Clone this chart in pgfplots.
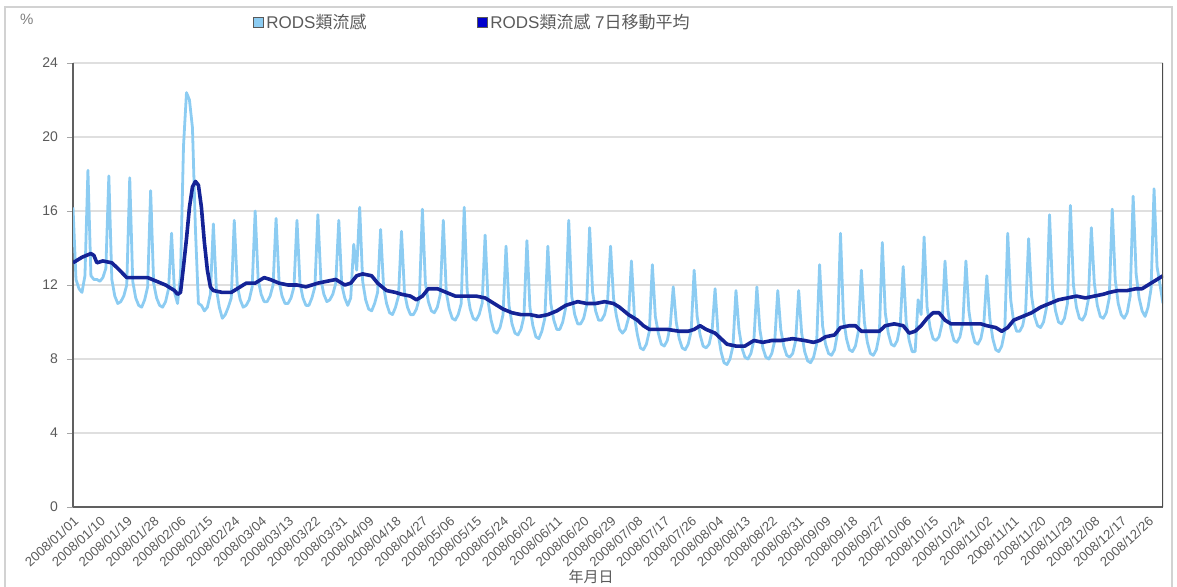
\documentclass[border=0pt]{standalone}
\usepackage{fontspec}
\setmainfont{Liberation Sans}
\newfontfamily\cjk{Noto Sans CJK TC}
\usepackage{pgfplots}
\usepackage{pgfplotstable}
\pgfplotsset{compat=1.18}

\definecolor{rodslight}{RGB}{140,204,242}
\definecolor{rodsdark}{RGB}{20,35,150}
\definecolor{txtgray}{RGB}{90,90,90}

% daily RODS ILI share (%), 2008/01/01 .. 2008/12/31, one week per line
\pgfplotstableread[row sep=\\]{
val\\
16.2\\ 12.3\\ 11.8\\ 11.6\\ 12.5\\ 18.2\\
12.5\\ 12.3\\ 12.3\\ 12.2\\ 12.4\\ 12.9\\ 17.9\\
12.3\\ 11.4\\ 11.0\\ 11.1\\ 11.4\\ 12.0\\ 17.8\\
12.2\\ 11.3\\ 10.9\\ 10.8\\ 11.2\\ 11.9\\ 17.1\\
12.1\\ 11.3\\ 10.9\\ 10.8\\ 11.1\\ 11.8\\ 14.8\\
11.6\\ 11.0\\ 12.5\\ 19.5\\ 22.4\\ 22.0\\ 20.5\\
15.0\\ 11.0\\ 10.9\\ 10.6\\ 10.8\\ 11.5\\ 15.3\\
11.8\\ 10.8\\ 10.2\\ 10.4\\ 10.8\\ 11.3\\ 15.5\\
12.0\\ 11.2\\ 10.8\\ 10.9\\ 11.2\\ 11.9\\ 16.0\\
12.3\\ 11.5\\ 11.1\\ 11.1\\ 11.4\\ 12.0\\ 15.6\\
12.2\\ 11.4\\ 11.0\\ 11.0\\ 11.3\\ 11.9\\ 15.5\\
12.1\\ 11.3\\ 10.9\\ 10.9\\ 11.3\\ 11.9\\ 15.8\\
12.3\\ 11.5\\ 11.1\\ 11.2\\ 11.5\\ 12.1\\ 15.5\\
12.0\\ 11.3\\ 10.9\\ 11.3\\ 14.2\\ 12.8\\ 16.2\\
12.2\\ 11.2\\ 10.7\\ 10.6\\ 11.0\\ 11.6\\ 15.0\\
11.9\\ 11.0\\ 10.5\\ 10.4\\ 10.8\\ 11.4\\ 14.9\\
11.6\\ 10.8\\ 10.4\\ 10.4\\ 10.7\\ 11.3\\ 16.1\\
12.1\\ 11.1\\ 10.6\\ 10.5\\ 10.8\\ 11.5\\ 15.5\\
11.6\\ 10.7\\ 10.2\\ 10.1\\ 10.4\\ 11.0\\ 16.2\\
11.7\\ 10.7\\ 10.2\\ 10.1\\ 10.4\\ 11.0\\ 14.7\\
11.1\\ 10.1\\ 9.5\\ 9.4\\ 9.7\\ 10.4\\ 14.1\\
10.9\\ 9.9\\ 9.4\\ 9.3\\ 9.6\\ 10.3\\ 14.4\\
10.8\\ 9.8\\ 9.2\\ 9.1\\ 9.5\\ 10.2\\ 14.1\\
11.0\\ 10.1\\ 9.6\\ 9.6\\ 10.0\\ 10.8\\ 15.5\\
11.4\\ 10.4\\ 9.9\\ 9.9\\ 10.2\\ 10.9\\ 15.1\\
11.6\\ 10.6\\ 10.1\\ 10.1\\ 10.4\\ 11.1\\ 14.1\\
11.3\\ 10.3\\ 9.6\\ 9.4\\ 9.6\\ 10.2\\ 13.3\\
10.3\\ 9.3\\ 8.6\\ 8.5\\ 8.8\\ 9.5\\ 13.1\\
10.3\\ 9.4\\ 8.8\\ 8.7\\ 9.0\\ 9.8\\ 11.9\\
10.0\\ 9.1\\ 8.6\\ 8.5\\ 8.8\\ 9.5\\ 12.8\\
10.3\\ 9.3\\ 8.7\\ 8.6\\ 8.8\\ 9.5\\ 11.8\\
9.4\\ 8.4\\ 7.8\\ 7.7\\ 8.0\\ 8.7\\ 11.7\\
9.6\\ 8.6\\ 8.1\\ 8.0\\ 8.3\\ 9.0\\ 11.9\\
9.6\\ 8.6\\ 8.1\\ 8.0\\ 8.3\\ 9.0\\ 11.7\\
9.6\\ 8.7\\ 8.2\\ 8.1\\ 8.3\\ 9.0\\ 11.7\\
9.4\\ 8.4\\ 7.9\\ 7.8\\ 8.1\\ 8.8\\ 13.1\\
9.8\\ 8.8\\ 8.3\\ 8.2\\ 8.5\\ 9.4\\ 14.8\\
10.2\\ 9.1\\ 8.5\\ 8.4\\ 8.7\\ 9.5\\ 12.8\\
10.0\\ 8.9\\ 8.3\\ 8.2\\ 8.5\\ 9.3\\ 14.3\\
10.5\\ 9.4\\ 8.8\\ 8.7\\ 9.0\\ 9.8\\ 13.0\\
10.0\\ 9.0\\ 8.4\\ 8.4\\ 11.2\\ 10.4\\ 14.6\\
10.8\\ 9.7\\ 9.1\\ 9.0\\ 9.2\\ 9.9\\ 13.3\\
10.6\\ 9.6\\ 9.0\\ 8.9\\ 9.2\\ 10.0\\ 13.3\\
10.6\\ 9.5\\ 8.9\\ 8.8\\ 9.1\\ 9.9\\ 12.5\\
10.2\\ 9.1\\ 8.5\\ 8.4\\ 8.7\\ 9.5\\ 14.8\\
11.2\\ 10.0\\ 9.5\\ 9.5\\ 9.8\\ 10.6\\ 14.5\\
11.4\\ 10.3\\ 9.8\\ 9.7\\ 10.0\\ 10.8\\ 15.8\\
11.8\\ 10.6\\ 10.0\\ 9.9\\ 10.2\\ 11.0\\ 16.3\\
12.0\\ 10.8\\ 10.2\\ 10.1\\ 10.4\\ 11.2\\ 15.1\\
12.1\\ 10.9\\ 10.3\\ 10.2\\ 10.5\\ 11.3\\ 16.1\\
12.3\\ 11.0\\ 10.4\\ 10.2\\ 10.5\\ 11.4\\ 16.8\\
12.6\\ 11.3\\ 10.6\\ 10.3\\ 10.8\\ 11.8\\ 17.2\\
13.0\\ 12.0\\ 11.0\\
}\rods

\begin{document}
\begin{tikzpicture}
% 1 px of the reference = 0.5pt; origin = lower left corner of the axis
\useasboundingbox (-36.5pt,-39.5pt) rectangle (552pt,253.5pt);
\draw[gray!35, line width=0.8pt] (-34pt,-40pt) -- (-34pt,250pt) -- (549.5pt,250pt) -- (549.5pt,-40pt);

\begin{axis}[
    at={(0,0)}, anchor=south west,
    scale only axis,
    width=545pt, height=222pt,
    xmin=0, xmax=365,
    ymin=0, ymax=24,
    ytick={0,4,...,24},
    xtick={0,9,...,360},
    xticklabels={2008/01/01,2008/01/10,2008/01/19,2008/01/28,2008/02/06,2008/02/15,2008/02/24,2008/03/04,2008/03/13,2008/03/22,2008/03/31,2008/04/09,2008/04/18,2008/04/27,2008/05/06,2008/05/15,2008/05/24,2008/06/02,2008/06/11,2008/06/20,2008/06/29,2008/07/08,2008/07/17,2008/07/26,2008/08/04,2008/08/13,2008/08/22,2008/08/31,2008/09/09,2008/09/18,2008/09/27,2008/10/06,2008/10/15,2008/10/24,2008/11/02,2008/11/11,2008/11/20,2008/11/29,2008/12/08,2008/12/17,2008/12/26},
    axis x line*=bottom, axis y line*=left,
    axis line style={-, draw=gray!75!black, line width=1.1pt},
    x tick style={draw=none},
    y tick style={draw=gray!70, line width=0.5pt},
    tick align=outside, major tick length=3pt,
    ymajorgrids,
    grid style={gray!25, line width=0.7pt},
    tick label style={font=\fontsize{7}{8}\selectfont, text=txtgray},
    x tick label style={font=\fontsize{6.6}{7}\selectfont, rotate=42, anchor=north east, inner sep=0.8pt},
    y tick label style={xshift=-1pt},
    /pgf/number format/assume math mode=true,
]
\addplot[rodslight, line width=1.4pt, line join=round] table[x expr=\coordindex, y=val] {\rods};
\addplot[rodsdark, line width=1.8pt, line join=round] coordinates {
(0,13.2) (3,13.5) (6,13.7) (7,13.6) (8,13.2) (10,13.3) (13,13.2) (15,12.9)
(18,12.4) (22,12.4) (25,12.4) (28,12.2) (31,12.0) (34,11.7) (35,11.5) (36,11.6)
(37,13.0) (38,14.5) (39,16.2) (40,17.3) (41,17.6) (42,17.4) (43,16.2) (44,14.3)
(45,12.8) (46,11.9) (47,11.7) (50,11.6) (53,11.6) (56,11.9) (58,12.1) (61,12.1)
(64,12.4) (66,12.3) (69,12.1) (72,12.0) (75,12.0) (78,11.9) (82,12.1) (85,12.2)
(88,12.3) (91,12.0) (93,12.1) (95,12.5) (97,12.6) (100,12.5) (102,12.1) (105,11.7)
(108,11.6) (110,11.5) (113,11.4) (115,11.2) (117,11.4) (119,11.8) (122,11.8) (125,11.6)
(128,11.4) (131,11.4) (135,11.4) (138,11.3) (141,11.0) (144,10.7) (147,10.5) (150,10.4)
(153,10.4) (156,10.3) (159,10.4) (162,10.6) (165,10.9) (169,11.1) (172,11.0) (175,11.0)
(178,11.1) (181,11.0) (183,10.8) (186,10.4) (189,10.1) (191,9.8) (193,9.6) (196,9.6)
(199,9.6) (203,9.5) (206,9.5) (208,9.6) (210,9.8) (212,9.6) (215,9.4) (217,9.1)
(219,8.8) (222,8.7) (225,8.7) (228,9.0) (231,8.9) (234,9.0) (237,9.0) (241,9.1)
(245,9.0) (248,8.9) (250,9.0) (252,9.2) (255,9.3) (257,9.7) (260,9.8) (262,9.8)
(264,9.5) (267,9.5) (270,9.5) (272,9.8) (275,9.9) (278,9.8) (280,9.4) (282,9.5)
(284,9.8) (286,10.2) (288,10.5) (290,10.5) (292,10.1) (294,9.9) (297,9.9) (301,9.9)
(304,9.9) (306,9.8) (309,9.7) (311,9.5) (313,9.7) (315,10.1) (318,10.3) (321,10.5)
(324,10.8) (327,11.0) (330,11.2) (333,11.3) (336,11.4) (339,11.3) (342,11.4) (345,11.5)
(347,11.6) (350,11.7) (353,11.7) (356,11.8) (358,11.8) (360,12.0) (362,12.2) (365,12.5)
};
\draw[gray!60!black, line width=0.8pt] (rel axis cs:1,0) -- (rel axis cs:1,1);
\end{axis}

% unit, legend and axis title
\node[anchor=west, text=gray, font=\fontsize{7.5}{8}\selectfont] at (-30pt,244pt) {\%};
\node[draw=gray!70!black, fill=rodslight, line width=0.4pt, minimum size=5pt, inner sep=0pt] at (92.5pt,242.5pt) {};
\node[anchor=west, text=txtgray, font=\fontsize{8.5}{9}\selectfont, inner sep=0pt] at (96.5pt,242.5pt) {RODS{\cjk 類流感}};
\node[draw=gray!70!black, fill=blue!80!black, line width=0.4pt, minimum size=5pt, inner sep=0pt] at (204.5pt,242.5pt) {};
\node[anchor=west, text=txtgray, font=\fontsize{8.5}{9}\selectfont, inner sep=0pt] at (208.5pt,242.5pt) {RODS{\cjk 類流感} 7{\cjk 日移動平均}};
\node[text=txtgray, font=\cjk\fontsize{7.5}{8}\selectfont] at (259pt,-35pt) {年月日};
\end{tikzpicture}
\end{document}
